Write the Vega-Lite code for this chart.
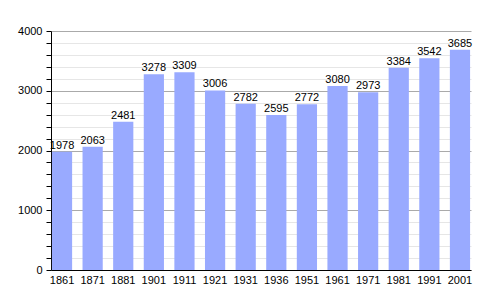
{
  "$schema": "https://vega.github.io/schema/vega-lite/v6.json",
  "autosize": "none",
  "width": 420,
  "height": 239,
  "padding": {"left": 51, "top": 31, "right": 29, "bottom": 30},
  "background": "white",
  "config": {"view": {"stroke": null}, "font": "Liberation Sans"},
  "data": {"values": [
    {"year": "1861", "pop": 1978},
    {"year": "1871", "pop": 2063},
    {"year": "1881", "pop": 2481},
    {"year": "1901", "pop": 3278},
    {"year": "1911", "pop": 3309},
    {"year": "1921", "pop": 3006},
    {"year": "1931", "pop": 2782},
    {"year": "1936", "pop": 2595},
    {"year": "1951", "pop": 2772},
    {"year": "1961", "pop": 3080},
    {"year": "1971", "pop": 2973},
    {"year": "1981", "pop": 3384},
    {"year": "1991", "pop": 3542},
    {"year": "2001", "pop": 3685}
  ]},
  "encoding": {
    "x": {"field": "year", "type": "ordinal", "sort": null,
      "scale": {"paddingInner": 0.34, "paddingOuter": 0.03},
      "axis": {"title": null, "labelAngle": 0, "ticks": false, "domainColor": "black", "labelColor": "black", "labelFontSize": 11, "labelPadding": 4}},
    "y": {"field": "pop", "type": "quantitative",
      "scale": {"domain": [0, 4000], "nice": false},
      "axis": {"title": null,
        "values": [0,200,400,600,800,1000,1200,1400,1600,1800,2000,2200,2400,2600,2800,3000,3200,3400,3600,3800,4000],
        "labelExpr": "datum.value % 1000 == 0 ? datum.label : ''",
        "format": "d",
        "gridColor": {"condition": {"test": "datum.value % 1000 == 0", "value": "#aaaaaa"}, "value": "#e6e6e6"},
        "domainColor": "black", "tickColor": "black", "tickSize": 5,
        "labelColor": "black", "labelFontSize": 11, "labelPadding": 4}}
  },
  "layer": [
    {"mark": {"type": "bar", "color": "#99aaff"}},
    {"mark": {"type": "text", "baseline": "bottom", "dy": -1, "fontSize": 11, "color": "black"},
     "encoding": {"text": {"field": "pop", "type": "quantitative", "format": "d"}}}
  ]
}
